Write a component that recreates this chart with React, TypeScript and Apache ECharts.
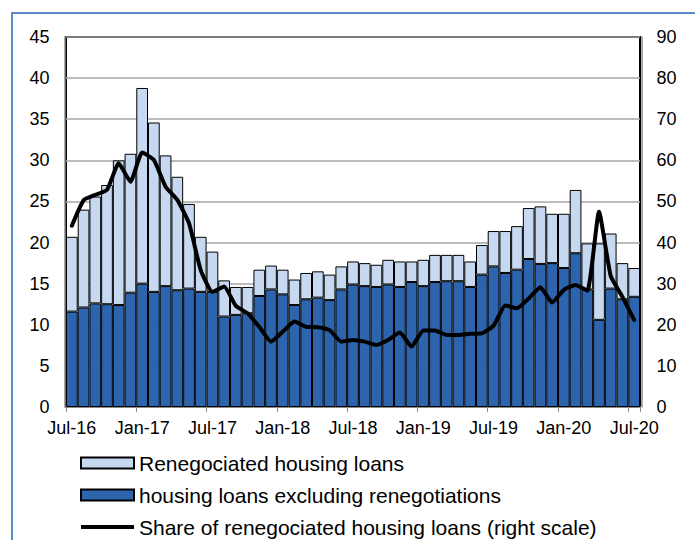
import React, { useEffect, useRef } from "react";
import * as echarts from "echarts";

const categories = [
  "Jul-16", "Aug-16", "Sep-16", "Oct-16", "Nov-16", "Dec-16",
  "Jan-17", "Feb-17", "Mar-17", "Apr-17", "May-17", "Jun-17",
  "Jul-17", "Aug-17", "Sep-17", "Oct-17", "Nov-17", "Dec-17",
  "Jan-18", "Feb-18", "Mar-18", "Apr-18", "May-18", "Jun-18",
  "Jul-18", "Aug-18", "Sep-18", "Oct-18", "Nov-18", "Dec-18",
  "Jan-19", "Feb-19", "Mar-19", "Apr-19", "May-19", "Jun-19",
  "Jul-19", "Aug-19", "Sep-19", "Oct-19", "Nov-19", "Dec-19",
  "Jan-20", "Feb-20", "Mar-20", "Apr-20", "May-20", "Jun-20",
  "Jul-20",
];

const excludingRenegotiations = [
  11.6, 12.1, 12.6, 12.5, 12.4, 13.9,
  15.0, 14.0, 14.7, 14.2, 14.4, 14.0,
  14.0, 11.0, 11.2, 11.4, 13.5, 14.3,
  13.7, 12.4, 13.1, 13.3, 13.0, 14.3,
  14.9, 14.7, 14.6, 14.9, 14.6, 15.2,
  14.7, 15.2, 15.3, 15.3, 14.6, 16.1,
  17.1, 16.3, 16.7, 18.0, 17.4, 17.5,
  16.9, 18.7, 14.3, 10.6, 14.4, 13.1,
  13.4,
];

const renegotiated = [
  9.1, 11.9, 13.0, 14.5, 17.6, 16.9,
  23.8, 20.6, 15.9, 13.8, 10.3, 6.7,
  4.9, 4.4, 3.4, 3.2, 3.2, 2.9,
  3.0, 3.1, 3.2, 3.2, 3.1, 2.8,
  2.8, 2.8, 2.7, 3.0, 3.1, 2.5,
  3.2, 3.3, 3.2, 3.2, 3.1, 3.6,
  4.3, 5.1, 5.3, 6.2, 7.0, 6.0,
  6.6, 7.7, 5.6, 9.3, 6.7, 4.4,
  3.5,
];

const shareRenegotiated = [
  44.1, 50.3, 51.6, 52.8, 59.3, 54.8,
  61.9, 60.1, 53.6, 50.4, 44.7, 33.3,
  28.0, 29.3, 24.6, 22.8, 19.5, 15.9,
  18.3, 20.8, 19.5, 19.4, 18.7, 15.9,
  16.3, 15.9, 15.1, 16.3, 18.1, 14.7,
  18.6, 18.6, 17.5, 17.5, 17.8, 17.9,
  19.8, 24.7, 24.0, 26.4, 29.1, 25.4,
  28.5, 29.7, 28.3, 47.5, 31.9, 26.8,
  21.2,
];

const leftTicks = { min: 0, max: 45, interval: 5 };
const rightTicks = { min: 0, max: 90, interval: 10 };

const FONT = "'Liberation Sans', Arial, sans-serif";

export default function App() {
  const ref = useRef<HTMLDivElement>(null);

  useEffect(() => {
    if (!ref.current) return;
    const chart = echarts.init(ref.current, undefined, { renderer: "svg" });
    chart.setOption({
      animation: false,
      backgroundColor: "#ffffff",
      textStyle: { fontFamily: FONT },
      grid: {
        left: 66,
        top: 37,
        width: 574,
        height: 370,
        show: true,
        borderColor: "#000000",
        borderWidth: 2,
        backgroundColor: "transparent",
      },
      graphic: [
        {
          type: "rect",
          shape: { x: 12, y: 13, width: 720, height: 560 },
          style: { fill: "none", stroke: "#5B8BC8", lineWidth: 2 },
          silent: true,
        },
      ],
      legend: {
        orient: "vertical",
        left: 80,
        top: 452,
        padding: 0,
        height: 88,
        itemWidth: 53,
        itemHeight: 11,
        itemGap: 10,
        selectedMode: false,
        textStyle: { fontSize: 21, color: "#000", fontFamily: FONT, lineHeight: 22 },
        data: [
          { name: "Renegociated housing loans", icon: "rect" },
          { name: "housing loans excluding renegotiations", icon: "rect" },
          {
            name: "Share of renegociated housing loans (right scale)",
            icon: "path://M0,0 L53,0 L53,4 L0,4 Z",
            itemStyle: { color: "#000000", borderWidth: 0 },
          },
        ],
      },
      xAxis: {
        type: "category",
        data: categories,
        boundaryGap: true,
        axisLine: { show: true, lineStyle: { color: "#8c8c8c", width: 2 } },
        axisTick: { show: true, interval: 5, length: 5, lineStyle: { color: "#8c8c8c", width: 1 } },
        axisLabel: {
          interval: 5,
          fontSize: 18,
          color: "#000",
          margin: 12,
          fontFamily: FONT,
        },
        splitLine: { show: false },
      },
      yAxis: [
        {
          type: "value",
          position: "left",
          min: leftTicks.min,
          max: leftTicks.max,
          interval: leftTicks.interval,
          offset: 1.5,
          axisLine: { show: true, lineStyle: { color: "#8c8c8c", width: 1.5 } },
          axisTick: { show: false },
          axisLabel: { fontSize: 18, color: "#000", margin: 15, fontFamily: FONT },
          splitLine: { show: true, lineStyle: { color: "#a6a6a6", width: 1.5 } },
        },
        {
          type: "value",
          position: "right",
          min: rightTicks.min,
          max: rightTicks.max,
          interval: rightTicks.interval,
          offset: 1.5,
          axisLine: { show: true, lineStyle: { color: "#8c8c8c", width: 1.5 } },
          axisTick: { show: false },
          axisLabel: { fontSize: 18, color: "#000", margin: 15, fontFamily: FONT },
          splitLine: { show: false },
        },
      ],
      series: [
        {
          name: "housing loans excluding renegotiations",
          type: "bar",
          stack: "loans",
          yAxisIndex: 0,
          data: excludingRenegotiations,
          barCategoryGap: "0%",
          itemStyle: { color: "#2C64AD", borderColor: "#000000", borderWidth: 1 },
          z: 2,
        },
        {
          name: "Renegociated housing loans",
          type: "bar",
          stack: "loans",
          yAxisIndex: 0,
          data: renegotiated,
          barCategoryGap: "0%",
          itemStyle: { color: "#C6D9F1", borderColor: "#000000", borderWidth: 1 },
          z: 2,
        },
        {
          name: "Share of renegociated housing loans (right scale)",
          type: "line",
          yAxisIndex: 1,
          data: shareRenegotiated,
          symbol: "none",
          smooth: 0.15,
          lineStyle: { color: "#000000", width: 4, join: "round", cap: "round" },
          itemStyle: { color: "#000000" },
          z: 5,
        },
      ],
    });
    return () => {
      chart.dispose();
    };
  }, []);

  return (
    <div
      ref={ref}
      style={{ position: "absolute", left: 0, top: 0, width: 695, height: 540 }}
    />
  );
}
